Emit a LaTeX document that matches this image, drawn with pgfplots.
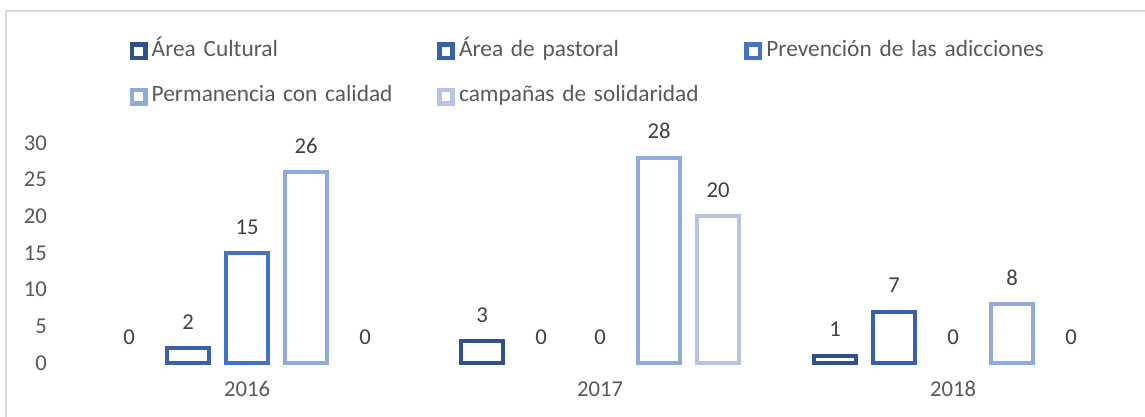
\documentclass[border=0pt]{standalone}
\usepackage{pgfplots}
\pgfplotsset{compat=1.18}
\usepackage{fontspec}
\setmainfont{Carlito}
\definecolor{cA}{HTML}{2F528F}
\definecolor{cB}{HTML}{3761AB}
\definecolor{cC}{HTML}{4472C4}
\definecolor{cD}{HTML}{8FAADC}
\definecolor{cE}{HTML}{B4C3E6}
\definecolor{tickc}{HTML}{595959}
\definecolor{labc}{HTML}{404040}
\definecolor{framec}{HTML}{D9D9D9}
\newcommand\lgimg[1]{\fill[#1] (0pt,-5.25pt) rectangle (10.5pt,5.25pt); \fill[white] (3.5pt,-1.75pt) rectangle (7pt,1.75pt); \path (13.5pt,0pt);}
\pgfplotsset{
  barA/.style={ybar, bar width=31.5pt, line width=3pt, fill=white, bar shift=#1,
    every node near coord/.append style={xshift=#1}},
}
\begin{document}
\begin{tikzpicture}
\useasboundingbox (0,0) rectangle (858.75pt,312.75pt);
\draw[framec, line width=1.1pt] (4.5pt,-2pt) -- (4.5pt,304.5pt) -- (862pt,304.5pt);
\begin{axis}[
  at={(52.875pt,40.5pt)}, anchor=south west,
  scale only axis, width=794.25pt, height=165pt,
  xmin=-0.5, xmax=2.5, ymin=0, ymax=30,
  xtick={0,1,2}, xticklabels={2016,2017,2018},
  ytick={0,5,...,30},
  /pgf/number format/assume math mode=true,
  axis line style={draw=none}, major tick length=0pt,
  tick label style={font=\fontsize{17}{20}\selectfont, text=tickc},
  yticklabel style={anchor=east, inner sep=0pt, xshift=-17.5pt},
  xticklabel style={anchor=north, inner sep=0pt, yshift=-14.3pt, text height=11pt},
  clip=false,
  nodes near coords,
  every node near coord/.append style={font=\fontsize{17}{20}\selectfont, text=labc, anchor=south, inner sep=0pt, yshift=12.5pt},
  legend columns=3,
  legend cell align=left,
  legend style={at={(0.0557,1.4668)}, anchor=north west, draw=none, fill=none, inner sep=0pt, row sep=18pt,
    nodes={inner sep=0pt, text=tickc, font=\fontsize{17.5}{20}\selectfont, text width=214pt, align=left, text height=12pt, text depth=4pt}},
]
% Area Cultural
\addplot[barA=-88.5pt, draw=cA, legend image code/.code={\lgimg{cA}}] coordinates {(1,3) (2,1)};
\addlegendentry{Área Cultural}
\addplot[barA=-88.5pt, draw=none, fill=none, forget plot] coordinates {(0,0)};
% Area de pastoral
\addplot[barA=-44.25pt, draw=cB, legend image code/.code={\lgimg{cB}}] coordinates {(0,2) (2,7)};
\addlegendentry{Área de pastoral}
\addplot[barA=-44.25pt, draw=none, fill=none, forget plot] coordinates {(1,0)};
% Prevencion
\addplot[barA=0pt, draw=cC, legend image code/.code={\lgimg{cC}}] coordinates {(0,15)};
\addlegendentry{Prevención de las adicciones}
\addplot[barA=0pt, draw=none, fill=none, forget plot] coordinates {(1,0) (2,0)};
% Permanencia
\addplot[barA=44.25pt, draw=cD, legend image code/.code={\lgimg{cD}}] coordinates {(0,26) (1,28) (2,8)};
\addlegendentry{Permanencia con calidad}
% campanas
\addplot[barA=88.5pt, draw=cE, legend image code/.code={\lgimg{cE}}] coordinates {(1,20)};
\addlegendentry{campañas de solidaridad}
\addplot[barA=88.5pt, draw=none, fill=none, forget plot] coordinates {(0,0) (2,0)};
\end{axis}
\end{tikzpicture}
\end{document}
